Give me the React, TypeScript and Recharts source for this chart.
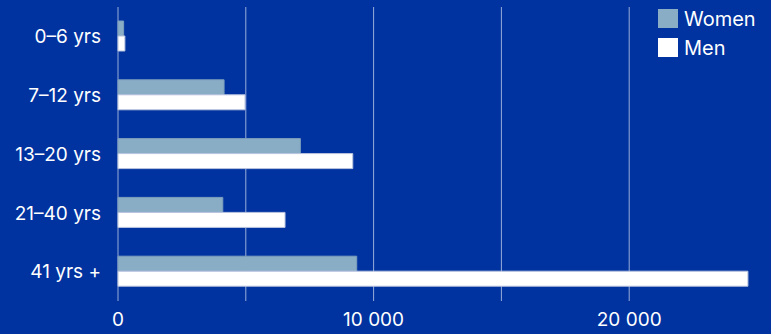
import React from 'react';
import { BarChart, Bar, XAxis, YAxis, CartesianGrid } from 'recharts';

const categories = ['0–6 yrs', '7–12 yrs', '13–20 yrs', '21–40 yrs', '41 yrs +'];
const women = [220, 4150, 7135, 4100, 9340];
const men = [270, 4970, 9185, 6535, 24645];
const xTicks = [0, 5000, 10000, 15000, 20000];
const xMax = 25000;

const data = categories.map((c, i) => ({ name: c, women: women[i], men: men[i] }));

const BG = '#0033a0';
const WOMEN_C = '#8aadc6';
const MEN_C = '#ffffff';
const FONT = 'Inter, "Noto Sans", sans-serif';

const fmt = (v: number) => (v % 10000 === 0 ? (v === 0 ? '0' : String(v).replace(/\B(?=(\d{3})+(?!\d))/g, ' ')) : '');

const legendItems = [
  { label: 'Women', color: WOMEN_C },
  { label: 'Men', color: MEN_C },
];

const LegendBox = () => (
  <div style={{ position: 'absolute', left: 658, top: 4, fontFamily: FONT, color: '#fff', fontSize: 20 }}>
    {legendItems.map((it) => (
      <div key={it.label} style={{ display: 'flex', alignItems: 'center', height: 29 }}>
        <span style={{ width: 20, height: 19, background: it.color, display: 'inline-block', marginRight: 6 }} />
        <span>{it.label}</span>
      </div>
    ))}
  </div>
);

const gridGen = (props: any) => {
  const scale = props?.xAxis?.scale;
  if (typeof scale === 'function') return xTicks.map((t) => scale(t));
  const { offset } = props;
  return xTicks.map((t) => offset.left + (t / xMax) * offset.width);
};

export default function App() {
  return (
    <div style={{ position: 'absolute', left: 0, top: 0, width: 771, height: 334, background: BG }}>
      <BarChart
        width={771}
        height={334}
        data={data}
        layout="vertical"
        margin={{ top: 7, right: 14, bottom: 0, left: 0 }}
        barGap={0}
        barSize={15}
      >
        <CartesianGrid
          horizontal={false}
          stroke="rgba(255,255,255,0.6)"
          strokeWidth={1}
          verticalCoordinatesGenerator={gridGen}
        />
        <XAxis
          type="number"
          domain={[0, xMax]}
          ticks={xTicks}
          tickFormatter={fmt}
          axisLine={false}
          tickLine={false}
          height={33}
          interval={0}
          tick={{ fill: '#fff', fontSize: 19, fontFamily: FONT }}
          tickMargin={6}
        />
        <YAxis
          type="category"
          dataKey="name"
          width={118}
          axisLine={false}
          tickLine={false}
          tick={{ fill: '#fff', fontSize: 19, fontFamily: FONT }}
          tickMargin={11}
        />
        <Bar dataKey="women" fill={WOMEN_C} stroke="#7d9fbd" strokeWidth={1} isAnimationActive={false} />
        <Bar dataKey="men" fill={MEN_C} stroke="#b9c4de" strokeWidth={1} isAnimationActive={false} />
      </BarChart>
      <LegendBox />
    </div>
  );
}
